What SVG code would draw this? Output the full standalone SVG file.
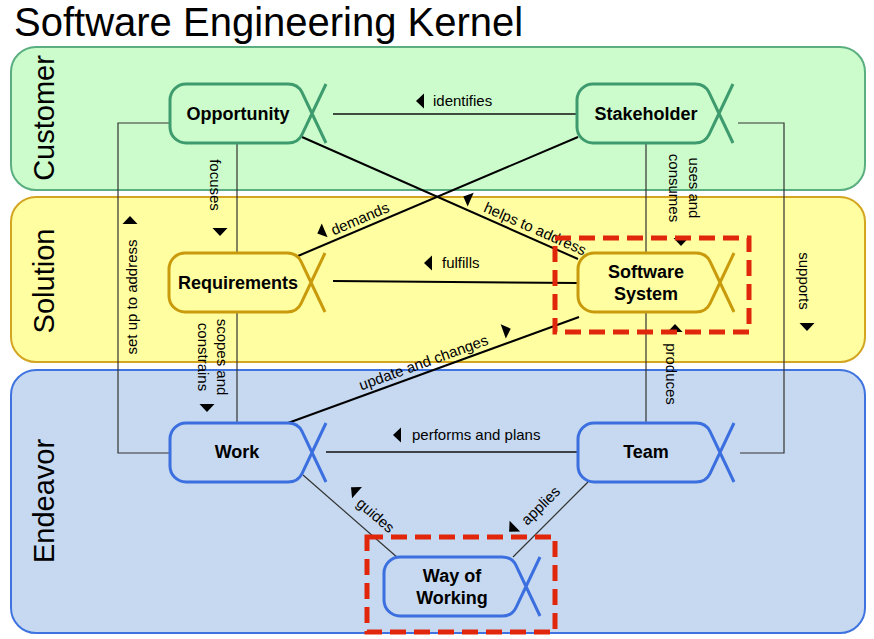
<svg xmlns="http://www.w3.org/2000/svg" xmlns:xlink="http://www.w3.org/1999/xlink" width="874" height="639" viewBox="0 0 874 639">
<style>
.lane{stroke-width:2}
.cust{fill:#ccfccb;stroke:#5aae80}
.sol{fill:#fffea0;stroke:#d4a520}
.end{fill:#c6d9f0;stroke:#3f74e0}
.lanelbl{font-family:"Liberation Sans",Arial,sans-serif;font-size:29px;fill:#000}
.title{font-family:"Liberation Sans",Arial,sans-serif;font-size:40px;fill:#000}
.ng{fill:#ccfccb;stroke:#3d9b6e;stroke-width:3;stroke-linejoin:round}
.ny{fill:#fffea0;stroke:#c99a0c;stroke-width:3;stroke-linejoin:round}
.nb{fill:#c6d9f0;stroke:#3b6fe0;stroke-width:3;stroke-linejoin:round}
.nt{font-family:"Liberation Sans",Arial,sans-serif;font-size:18px;font-weight:bold;fill:#000;text-anchor:middle}
.ln{fill:none;stroke:#111;stroke-width:1.5}
.lt{fill:none;stroke:#333;stroke-width:1.2}
.ld{fill:none;stroke:#000;stroke-width:2}
.lbl{font-family:"Liberation Sans",Arial,sans-serif;font-size:15px;fill:#000}
.mid{text-anchor:middle}
.red{fill:none;stroke:#e0260b;stroke-width:5;stroke-dasharray:16 8}
</style>
<defs>
<path id="node" d="M16,0 H118 Q128,0 132,8.4 L142,29.5 L132,50.6 Q128,59 118,59 H16 A16,16 0 0 1 0,43 V16 A16,16 0 0 1 16,0 Z M142,29.5 L156,59 M142,29.5 L156,0"/>
<path id="tri" d="M-4,0 L4,-7.5 L4,7.5 Z" fill="#000"/>
</defs>
<rect width="874" height="639" fill="#fff"/>
<text class="title" x="14" y="36">Software Engineering Kernel</text>
<g id="lanes">
<rect class="lane cust" x="11" y="47" width="854" height="143" rx="25"/>
<rect class="lane sol" x="11" y="197" width="854" height="165" rx="25"/>
<rect class="lane end" x="11" y="370" width="854" height="263" rx="25"/>
<text class="lanelbl mid" transform="translate(54,118) rotate(-90)">Customer</text>
<text class="lanelbl mid" transform="translate(54,281) rotate(-90)">Solution</text>
<text class="lanelbl mid" transform="translate(54,501) rotate(-90)">Endeavor</text>
</g>
<g id="connectors">
<path class="ln" d="M333,114 H577"/>
<path class="ld" d="M333,281 L578,283"/>
<path class="ln" d="M326,452 H578"/>
<path class="lt" d="M170,123 H118 V453 H170"/>
<path class="lt" d="M237,143 V253 M237,312 V423"/>
<path class="lt" d="M646,143 V253 M646,312 V423"/>
<path class="lt" d="M738,123 H784 V453 H740"/>
<path class="ld" d="M302,137 L578,259"/>
<path class="ld" d="M578,137 L298,256"/>
<path class="ld" d="M288,423 L579,317"/>
<path class="lt" d="M303,475 L398,558"/>
<path class="lt" d="M588,482 L513,557"/>
<use xlink:href="#tri" href="#tri" transform="translate(420,101)"/>
<text class="lbl" x="433" y="106">identifies</text>
<use xlink:href="#tri" href="#tri" transform="translate(428,263)"/>
<text class="lbl" x="442" y="268">fulfills</text>
<use xlink:href="#tri" href="#tri" transform="translate(397,435)"/>
<text class="lbl" x="412" y="440">performs and plans</text>
<use xlink:href="#tri" href="#tri" transform="translate(220,232) rotate(-90)"/>
<text class="lbl mid" transform="translate(210,185) rotate(90)">focuses</text>
<use xlink:href="#tri" href="#tri" transform="translate(207,408) rotate(-90)"/>
<text class="lbl mid" transform="translate(217,357) rotate(90)">scopes and</text>
<text class="lbl mid" transform="translate(198,357) rotate(90)">constrains</text>
<use xlink:href="#tri" href="#tri" transform="translate(130,220) rotate(90)"/>
<text class="lbl mid" transform="translate(137,297) rotate(-90)">set up to address</text>
<use xlink:href="#tri" href="#tri" transform="translate(681,242) rotate(-90)"/>
<text class="lbl mid" transform="translate(689,188) rotate(90)">uses and</text>
<text class="lbl mid" transform="translate(669,188) rotate(90)">consumes</text>
<use xlink:href="#tri" href="#tri" transform="translate(675,328) rotate(90)"/>
<text class="lbl mid" transform="translate(666,374) rotate(90)">produces</text>
<use xlink:href="#tri" href="#tri" transform="translate(807,327) rotate(-90)"/>
<text class="lbl mid" transform="translate(799,281) rotate(90)">supports</text>
<use xlink:href="#tri" href="#tri" transform="translate(467,198) rotate(23.85)"/>
<text class="lbl mid" transform="translate(531,238) rotate(23.85)" y="-5">helps to address</text>
<use xlink:href="#tri" href="#tri" transform="translate(321,232) rotate(-23.03)"/>
<text class="lbl mid" transform="translate(364,228) rotate(-23.03)" y="-5">demands</text>
<use xlink:href="#tri" href="#tri" transform="translate(507,330) rotate(160.15)"/>
<text class="lbl mid" transform="translate(427,372) rotate(-19.85)" y="-5">update and changes</text>
<use xlink:href="#tri" href="#tri" transform="translate(354,490) rotate(41.14)"/>
<text class="lbl mid" transform="translate(363.7,529) rotate(41.14)" y="-13">guides</text>
<use xlink:href="#tri" href="#tri" transform="translate(512,529) rotate(-44.6)"/>
<text class="lbl mid" transform="translate(552.7,517.8) rotate(-44.6)" y="-12">applies</text>
</g>
<g id="opportunity"><use xlink:href="#node" href="#node" class="ng" transform="translate(170,84)"/><text class="nt" x="238" y="120">Opportunity</text></g>
<g id="stakeholder"><use xlink:href="#node" href="#node" class="ng" transform="translate(577,84)"/><text class="nt" x="646" y="120">Stakeholder</text></g>
<g id="requirements"><use xlink:href="#node" href="#node" class="ny" transform="translate(169,253)"/><text class="nt" x="238" y="289">Requirements</text></g>
<g id="software-system"><use xlink:href="#node" href="#node" class="ny" transform="translate(578,253)"/><text class="nt" x="646" y="278">Software</text><text class="nt" x="646" y="300">System</text></g>
<g id="work"><use xlink:href="#node" href="#node" class="nb" transform="translate(170,423)"/><text class="nt" x="237" y="458">Work</text></g>
<g id="team"><use xlink:href="#node" href="#node" class="nb" transform="translate(578,423)"/><text class="nt" x="646" y="458">Team</text></g>
<g id="way-of-working"><use xlink:href="#node" href="#node" class="nb" transform="translate(384,557)"/><text class="nt" x="452" y="582">Way of</text><text class="nt" x="452" y="604">Working</text></g>
<g id="highlights">
<rect class="red" x="555" y="238" width="194" height="94"/>
<rect class="red" x="367" y="537" width="188" height="95"/>
</g>
</svg>
